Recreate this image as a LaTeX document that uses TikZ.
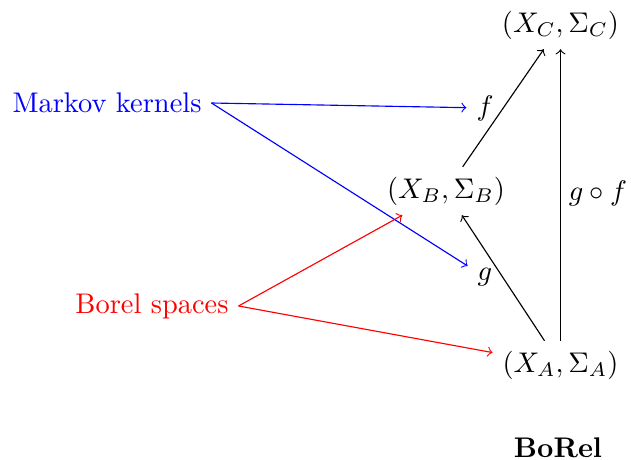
\documentclass[tikz,border=0pt]{standalone}
\usepackage{amsmath}
\begin{document}
\begin{tikzpicture}[x=0.352pt,y=-0.352pt,
  obj/.style={inner sep=3.33pt},
  mor/.style={->,black},
  mk/.style={->,blue},
  bs/.style={->,red}]
\useasboundingbox (0,0) rectangle (631,460);
\node[obj] (xc) at (560.5,25) {$(X_C,\Sigma_C)$};
\node[obj] (xb) at (446,191) {$(X_B,\Sigma_B)$};
\node[obj] (xa) at (560.5,365) {$(X_A,\Sigma_A)$};
\node[obj] (f) at (485,108) {$f$};
\node[obj] (g) at (485,277) {$g$};
\node[obj] (gf) at (598,193) {$g\circ f$};
\node[obj] (borel) at (558,448) {\textbf{BoRel}};
\node[obj,text=blue] (mkn) at (107,103) {Markov kernels};
\node[obj,text=red] (bsn) at (152,306) {Borel spaces};
\draw[mor] (xb) -- (xc);
\draw[mor] (xa) -- (xb);
\draw[mor] (xa.north) -- (xc.south);
\draw[mk] (mkn.east) -- (f);
\draw[mk] (mkn.east) -- (g);
\draw[bs] (bsn.east) -- (xb);
\draw[bs] (bsn.east) -- (xa);
\end{tikzpicture}
\end{document}
